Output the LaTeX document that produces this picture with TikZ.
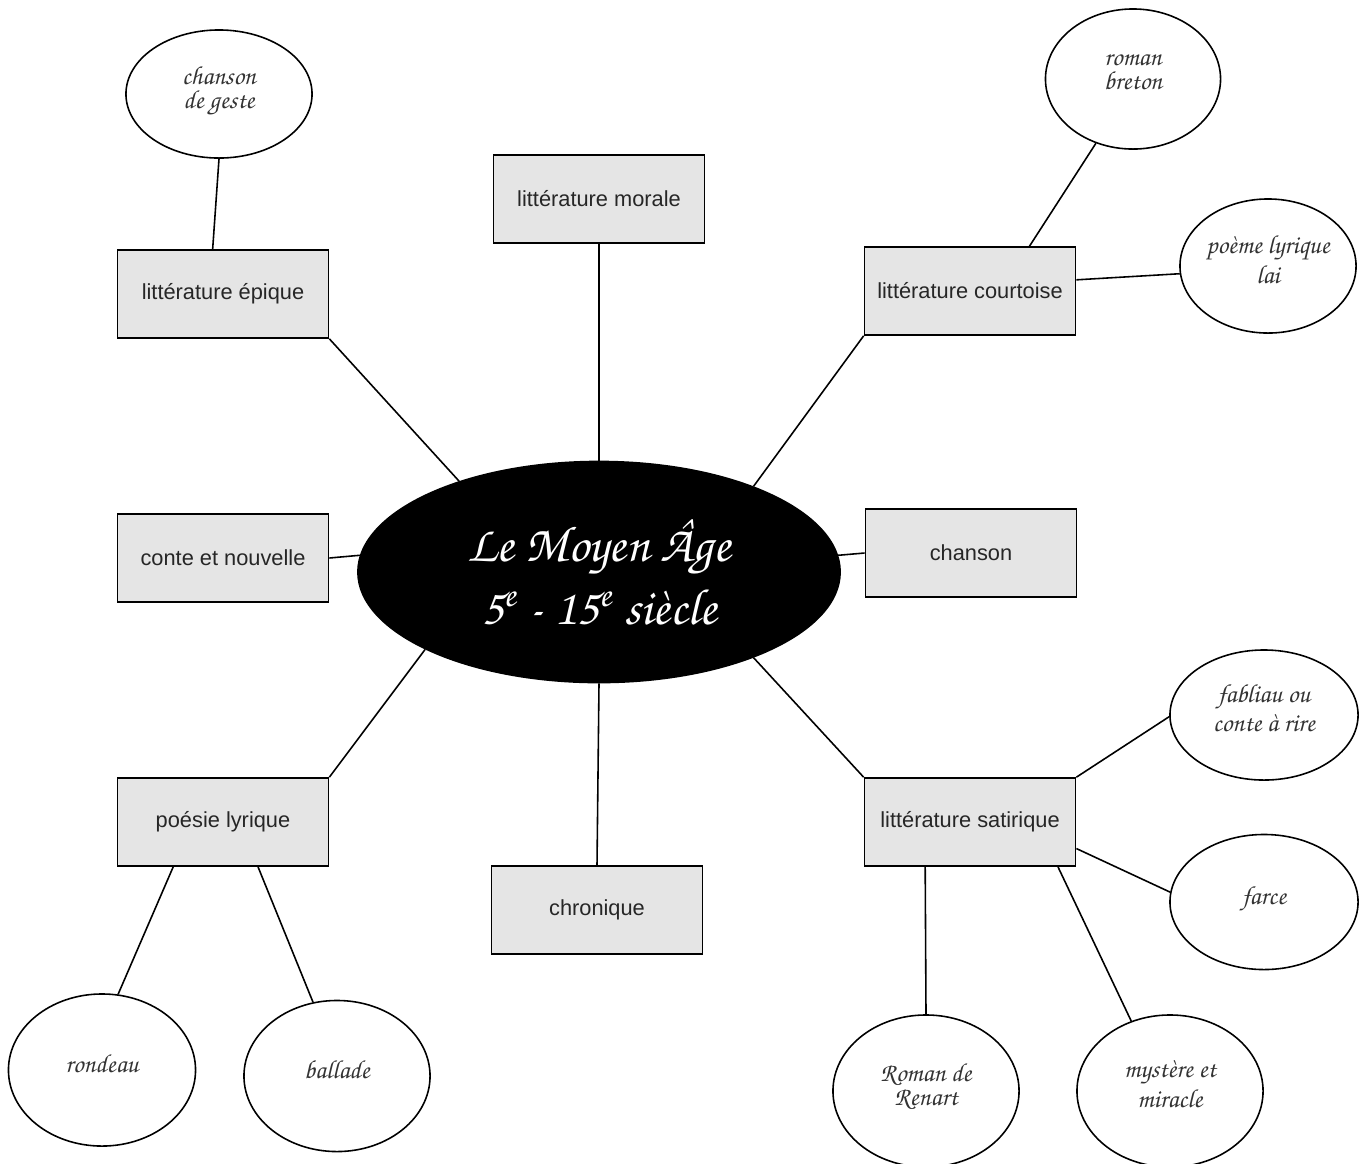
\documentclass[tikz,border=0pt]{standalone}
\usepackage[T1]{fontenc}
\usepackage{fontspec}
\setsansfont{Liberation Sans}
\usepackage{tikz}
\usetikzlibrary{shapes.geometric}
\newcommand{\chancery}{\fontencoding{T1}\fontfamily{pzc}\fontseries{mb}\fontshape{it}\selectfont}
\tikzset{
  genre/.style={draw,fill=black!10,text=black!85,minimum width=2.11cm,minimum height=0.88cm,inner sep=0pt,
    font=\sffamily\fontsize{6.2}{7}\selectfont},
  oeuvre/.style={draw,ellipse,fill=white,text=black!80,align=center,inner sep=0pt,text depth=4pt,
    minimum width=1.86cm,minimum height=1.32cm,font=\chancery\fontsize{7.4}{6.8}\selectfont},
  moyenage/.style={draw,ellipse,fill=black,text=white,align=center,inner sep=0pt,
    minimum width=4.82cm,minimum height=2.21cm,font=\chancery\fontsize{14.5}{18}\selectfont}
}

\begin{document}
\begin{tikzpicture}[x=0.01cm,y=-0.01cm,line width=0.45pt]
  \useasboundingbox (0,0) rectangle (1364,1163);

  % centre
  \node[moyenage] (age) at (599,572) {Le Moyen Âge\\5\textsuperscript{e} - 15\textsuperscript{e} siècle};

  % genres
  \node[genre] (morale)    at (599,199) {littérature morale};
  \node[genre] (epique)    at (223,294) {littérature épique};
  \node[genre] (courtoise) at (970,291) {littérature courtoise};
  \node[genre] (conte)     at (223,558) {conte et nouvelle};
  \node[genre] (chanson)   at (971,553) {chanson};
  \node[genre] (lyrique)   at (223,822) {poésie lyrique};
  \node[genre] (chronique) at (597,910) {chronique};
  \node[genre] (satirique) at (970,822) {littérature satirique};

  % oeuvres
  \node[oeuvre,minimum height=1.28cm] (geste) at (219,94) {chanson\\de geste};
  \node[oeuvre,minimum width=1.75cm,minimum height=1.40cm] (breton) at (1133,79) {roman\\breton};
  \node[oeuvre,minimum width=1.76cm,minimum height=1.34cm] (lai) at (1268,266) {poème lyrique\\lai};
  \node[oeuvre,minimum width=1.88cm,minimum height=1.30cm] (fabliau) at (1264,715) {fabliau ou\\conte à rire};
  \node[oeuvre,minimum width=1.88cm,minimum height=1.35cm] (farce) at (1264,902) {farce};
  \node[oeuvre,minimum height=1.52cm] (renart) at (926,1091) {Roman de\\Renart};
  \node[oeuvre,minimum height=1.52cm] (mystere) at (1170,1091) {mystère et\\miracle};
  \node[oeuvre,minimum width=1.87cm,minimum height=1.52cm] (rondeau) at (102,1070) {rondeau};
  \node[oeuvre,minimum height=1.51cm] (ballade) at (337,1076) {ballade};

  % liens
  \draw (morale) -- (age);
  \draw (age.south) -- (chronique.north);
  \draw (epique.south east) -- (age.147.5);
  \draw (courtoise.south west) -- (age.29);
  \draw (conte.east) -- (age.176);
  \draw (age.4) -- (chanson.west);
  \draw (lyrique.north east) -- (age.204.5);
  \draw (satirique.north west) -- (age.331.7);

  \draw (epique.103) -- (geste.south);
  \draw (courtoise.37) -- (breton.240);
  \draw (courtoise.6) -- (lai.185);
  \draw (satirique.north east) -- (fabliau.181);
  \draw (satirique.346.7) -- (farce.174.5);
  \draw (satirique.333.4) -- (mystere.119);
  \draw (satirique.225) -- (renart.north);
  \draw (lyrique.222.5) -- (rondeau.78);
  \draw (lyrique.308.5) -- (ballade.108);
\end{tikzpicture}
\end{document}
